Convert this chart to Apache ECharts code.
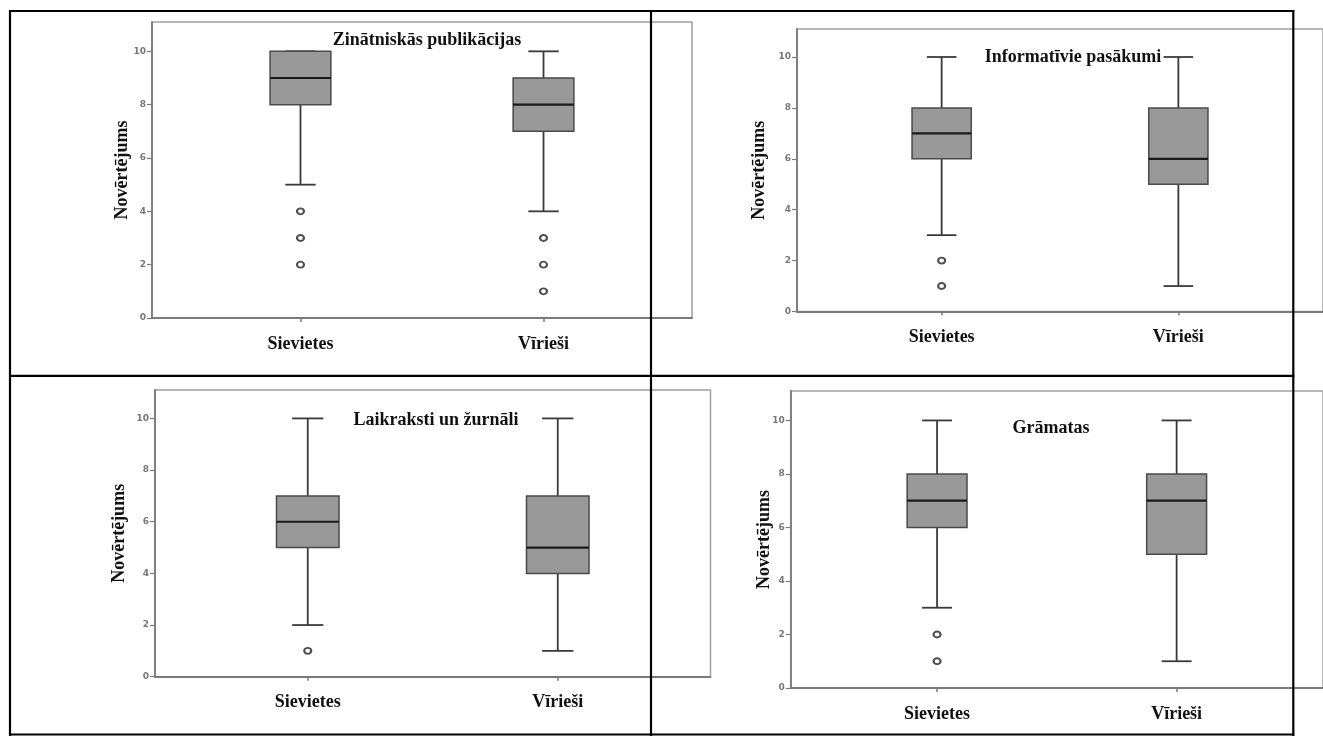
<!DOCTYPE html>
<html>
<head>
<meta charset="utf-8">
<script src="https://cdn.jsdelivr.net/npm/echarts@6/dist/echarts.min.js"></script>
<style>
  html, body { margin: 0; padding: 0; background: #ffffff; }
  #chart { width: 1323px; height: 736px; }
</style>
</head>
<body>
<div id="chart"></div>
<script>
// Groups on the horizontal axis and the rating scale ticks
const groups = ['Sievietes', 'Vīrieši'];
const yTicks = [0, 2, 4, 6, 8, 10];
const yTitle = 'Novērtējums';

// Panel titles
const titles = ['Zinātniskās publikācijas', 'Informatīvie pasākumi', 'Laikraksti un žurnāli', 'Grāmatas'];

// Five-number summaries per group: [min, Q1, median, Q3, max]
const pubStats = [[5, 8, 9, 10, 10], [4, 7, 8, 9, 10]];
const infoStats = [[3, 6, 7, 8, 10], [1, 5, 6, 8, 10]];
const pressStats = [[2, 5, 6, 7, 10], [1, 4, 5, 7, 10]];
const bookStats = [[3, 6, 7, 8, 10], [1, 5, 7, 8, 10]];

// Outliers per group
const pubOutliers = [[4, 3, 2], [3, 2, 1]];
const infoOutliers = [[2, 1], []];
const pressOutliers = [[1], []];
const bookOutliers = [[2, 1], []];

const statsList = [pubStats, infoStats, pressStats, bookStats];
const outlierList = [pubOutliers, infoOutliers, pressOutliers, bookOutliers];

// Plot frames and text placement of the four panels
const panels = [
  { left: 152, top: 22, width: 540, height: 296, nameGap: 21, title: [427, 40] },
  { left: 797, top: 29, width: 536, height: 282.5, nameGap: 29, title: [1073, 57] },
  { left: 155, top: 390, width: 555.5, height: 286.7, nameGap: 27, title: [436, 420] },
  { left: 790.7, top: 391, width: 536, height: 297, nameGap: 17, title: [1051, 428] }
];

const SERIF = "'Liberation Serif', 'Times New Roman', serif";
const X_MIN = -0.611, X_MAX = 1.611;
const BOX_W = 0.25, CAP_W = 0.125;

function renderBox(params, api) {
  const x = api.value(0);
  const lo = api.coord([x, api.value(1)]);
  const q1 = api.coord([x, api.value(2)]);
  const med = api.coord([x, api.value(3)]);
  const q3 = api.coord([x, api.value(4)]);
  const hi = api.coord([x, api.value(5)]);
  const bw = api.size([BOX_W, 0])[0];
  const cw = api.size([CAP_W, 0])[0];
  const cx = lo[0];
  const whisker = { stroke: '#3a3a3a', lineWidth: 1.8 };
  return {
    type: 'group',
    children: [
      { type: 'line', shape: { x1: cx, y1: q3[1], x2: cx, y2: hi[1] }, style: whisker },
      { type: 'line', shape: { x1: cx, y1: q1[1], x2: cx, y2: lo[1] }, style: whisker },
      { type: 'line', shape: { x1: cx - cw / 2, y1: hi[1], x2: cx + cw / 2, y2: hi[1] }, style: whisker },
      { type: 'line', shape: { x1: cx - cw / 2, y1: lo[1], x2: cx + cw / 2, y2: lo[1] }, style: whisker },
      { type: 'rect', shape: { x: cx - bw / 2, y: q3[1], width: bw, height: q1[1] - q3[1] },
        style: { fill: '#999999', stroke: '#4a4a4a', lineWidth: 1.5 } },
      { type: 'line', shape: { x1: cx - bw / 2, y1: med[1], x2: cx + bw / 2, y2: med[1] },
        style: { stroke: '#1a1a1a', lineWidth: 2.2 } }
    ]
  };
}

const grid = [], xAxis = [], yAxis = [], series = [], graphic = [];

panels.forEach(function (p, i) {
  grid.push({
    left: p.left, top: p.top, width: p.width, height: p.height,
    show: true, borderColor: '#a0a0a0', borderWidth: 1.5, backgroundColor: 'transparent'
  });
  xAxis.push({
    gridIndex: i, type: 'value', min: X_MIN, max: X_MAX,
    splitLine: { show: false },
    axisLine: { show: true, onZero: false, lineStyle: { color: '#7a7a7a', width: 1.8 } },
    axisTick: { show: true, length: 4, customValues: [0, 1], lineStyle: { color: '#7a7a7a', width: 1.5 } },
    axisLabel: {
      customValues: [0, 1], margin: 17,
      formatter: function (v) { return groups[Math.round(v)] || ''; },
      fontFamily: SERIF, fontWeight: 'bold', fontSize: 18, color: '#111'
    }
  });
  yAxis.push({
    gridIndex: i, type: 'value', min: 0, max: 11.1,
    name: yTitle, nameLocation: 'middle', nameGap: p.nameGap, nameMoveOverlap: false,
    nameTextStyle: { fontFamily: SERIF, fontWeight: 'bold', fontSize: 18, color: '#111' },
    splitLine: { show: false },
    axisLine: { show: true, onZero: false, lineStyle: { color: '#7a7a7a', width: 1.8 } },
    axisTick: { show: true, length: 5, customValues: yTicks, lineStyle: { color: '#7a7a7a', width: 1.2 } },
    axisLabel: {
      customValues: yTicks, margin: 6,
      fontFamily: "'DejaVu Sans', sans-serif", fontSize: 9, fontWeight: 'bold', color: '#777'
    }
  });
  const boxData = statsList[i].map(function (s, g) { return [g].concat(s); });
  series.push({
    type: 'custom', xAxisIndex: i, yAxisIndex: i,
    renderItem: renderBox, data: boxData, z: 3
  });
  const pts = [];
  outlierList[i].forEach(function (vals, g) {
    vals.forEach(function (v) { pts.push([g, v]); });
  });
  series.push({
    type: 'scatter', xAxisIndex: i, yAxisIndex: i, data: pts, z: 4,
    symbol: 'emptyCircle', symbolSize: [7, 6],
    itemStyle: { color: '#222', borderWidth: 1.6 }
  });
  graphic.push({
    type: 'text', x: p.title[0], y: p.title[1], z: 10,
    style: {
      text: titles[i], fill: '#111', align: 'center', verticalAlign: 'middle',
      font: 'bold 18px ' + SERIF
    }
  });
});

// Table borders around the four panels
const tableLines = [
  [9, 11, 1294.3, 11],
  [9, 375.8, 1294.3, 375.8],
  [9, 734.5, 1294.3, 734.5],
  [10, 10, 10, 736],
  [651, 10, 651, 736],
  [1293.3, 10, 1293.3, 736]
];
tableLines.forEach(function (l) {
  graphic.push({
    type: 'line', z: 20,
    shape: { x1: l[0], y1: l[1], x2: l[2], y2: l[3] },
    style: { stroke: '#000', lineWidth: 2.2 }
  });
});

const chart = echarts.init(document.getElementById('chart'), null, { renderer: 'canvas' });
chart.setOption({
  animation: false,
  backgroundColor: '#ffffff',
  grid: grid, xAxis: xAxis, yAxis: yAxis, series: series, graphic: graphic
});
</script>
</body>
</html>
